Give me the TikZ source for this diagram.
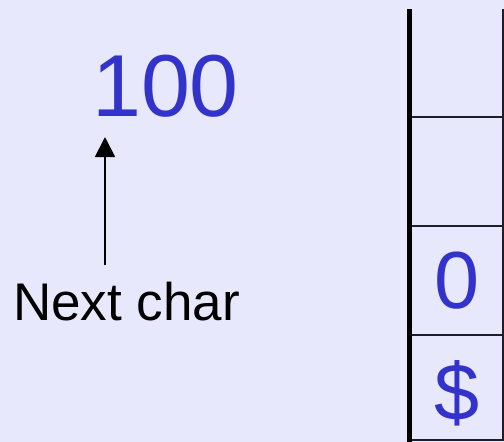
\documentclass[tikz,border=0pt]{standalone}
\usepackage{fontspec}
\setmainfont{Liberation Sans}
\usetikzlibrary{arrows.meta}
\definecolor{bgcol}{RGB}{232,232,252}
\definecolor{txtblue}{RGB}{51,51,204}
\definecolor{cellline}{RGB}{30,30,40}
\begin{document}
\begin{tikzpicture}[x=1pt,y=-1pt,
  bluetxt/.style={text=txtblue,inner sep=0pt,anchor=base},
  blacktxt/.style={text=black,inner sep=0pt,anchor=base},
  cellrule/.style={draw=cellline,line width=2pt},
  stackwall/.style={draw=black,line width=5.5pt},
  pointer/.style={draw=black,line width=1.8pt,-{Triangle[length=20pt,width=20pt]}}]
  \fill[bgcol] (0,0) rectangle (504,442);
  \useasboundingbox (0,0) rectangle (504,442);
  % texts
  \node[bluetxt,font=\fontsize{88}{88}\selectfont] (num) at (165.5,116) {100};
  \node[blacktxt,font=\fontsize{53}{53}\selectfont] (next) at (126.5,320) {Next char};
  % arrow
  \coordinate (arrowtail) at (105,265);
  \coordinate (arrowtip) at (105,137);
  \draw[pointer] (arrowtail) -- (arrowtip);
  % stack
  \coordinate (st) at (409.5,9);
  \coordinate (sb) at (409.5,442);
  \coordinate (rt) at (502.5,9);
  \coordinate (rb) at (502.5,440);
  \draw[cellrule] (rt) -- (rb);
  \draw[cellrule] (412,117.3) -- (503.5,117.3);
  \draw[cellrule] (412,226) -- (503.5,226);
  \draw[cellrule] (412,334.5) -- (503.5,334.5);
  \draw[cellrule] (412,440) -- (503.5,440);
  \draw[stackwall] (st) -- (sb);
  \node[bluetxt,font=\fontsize{81}{81}\selectfont] (zero) at (457,308) {0};
  \node[bluetxt,font=\fontsize{81}{81}\selectfont] (dollar) at (457,420) {\$};
\end{tikzpicture}
\end{document}
